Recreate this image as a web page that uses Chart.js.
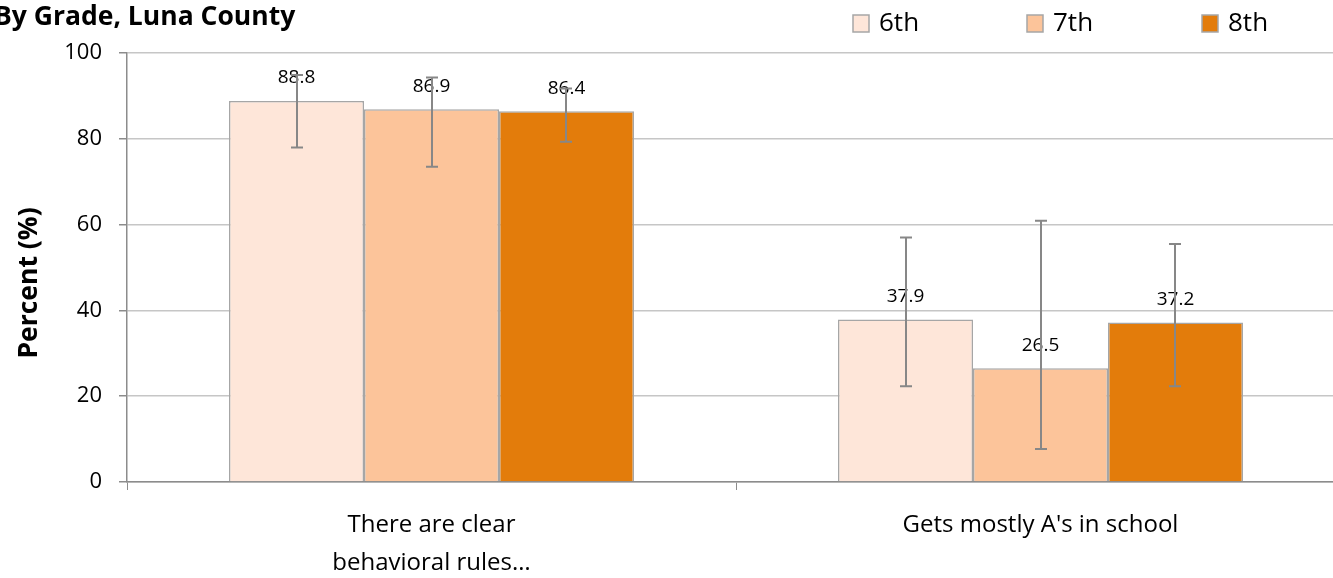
<!DOCTYPE html>
<html>
<head>
<meta charset="utf-8">
<script src="https://cdn.jsdelivr.net/npm/chart.js@4/dist/chart.umd.min.js"></script>
<style>
  html, body { margin: 0; padding: 0; background: #fff; overflow: hidden; width: 1333px; height: 578px; }
  #wrap { position: absolute; left: 0; top: 0; width: 1346px; height: 578px; }
</style>
</head>
<body>
<div id="wrap"><canvas id="c" width="1346" height="578"></canvas></div>
<script>
// ---- data ----
const titleText = "By Grade, Luna County";
const categories = [["There are clear", "behavioral rules\u2026"], "Gets mostly A's in school"];
const grades = ["6th", "7th", "8th"];
const val6 = [88.8, 37.9];
const val7 = [86.9, 26.5];
const val8 = [86.4, 37.2];
const low6 = [78.0, 22.3];
const high6 = [94.9, 57.0];
const low7 = [73.5, 7.7];
const high7 = [94.3, 60.9];
const low8 = [79.3, 22.3];
const high8 = [91.7, 55.5];
const yTicks = [0, 20, 40, 60, 80, 100];
const yTitle = "Percent (%)";

const colors = ["#FEE6D9", "#FCC49A", "#E37C0B"];
const values = [val6, val7, val8];
const lows = [low6, low7, low8];
const highs = [high6, high7, high8];
const FONT = "'Open Sans', 'DejaVu Sans', sans-serif";

const extras = {
  id: 'extras',
  afterDatasetsDraw(chart) {
    const ctx = chart.ctx;
    const y = chart.scales.y;
    ctx.save();
    // data labels
    ctx.font = "19px " + FONT;
    ctx.fillStyle = "#000";
    ctx.textAlign = "center";
    ctx.textBaseline = "middle";
    chart.data.datasets.forEach((ds, di) => {
      const meta = chart.getDatasetMeta(di);
      meta.data.forEach((bar, i) => {
        ctx.fillText(ds.data[i].toFixed(1), bar.x, bar.y - 23);
      });
    });
    // error bars
    ctx.strokeStyle = "#878787";
    ctx.lineWidth = 2;
    chart.data.datasets.forEach((ds, di) => {
      const meta = chart.getDatasetMeta(di);
      meta.data.forEach((bar, i) => {
        const yl = y.getPixelForValue(lows[di][i]);
        const yh = y.getPixelForValue(highs[di][i]);
        const x = Math.round(bar.x);
        ctx.beginPath();
        ctx.moveTo(x, yl); ctx.lineTo(x, yh);
        ctx.moveTo(x - 6, yl); ctx.lineTo(x + 6, yl);
        ctx.moveTo(x - 6, yh); ctx.lineTo(x + 6, yh);
        ctx.stroke();
      });
    });
    ctx.restore();
  },
  afterDraw(chart) {
    const ctx = chart.ctx;
    ctx.save();
    // title
    ctx.font = "bold 26.5px " + FONT;
    ctx.fillStyle = "#000";
    ctx.textAlign = "left";
    ctx.textBaseline = "middle";
    ctx.fillText(titleText, -6, 17);
    // y axis title
    ctx.save();
    ctx.translate(29, 283);
    ctx.rotate(-Math.PI / 2);
    ctx.textAlign = "center";
    ctx.font = "bold 26.5px " + FONT;
    ctx.fillText(yTitle, 0, 0);
    ctx.restore();
    // legend
    const lx = [853, 1027, 1202];
    ctx.font = "26px " + FONT;
    ctx.textAlign = "left";
    grades.forEach((g, i) => {
      ctx.fillStyle = colors[i];
      ctx.fillRect(lx[i], 15, 16, 17);
      ctx.strokeStyle = "#a6a6a6";
      ctx.lineWidth = 1.5;
      ctx.strokeRect(lx[i], 15, 16, 17);
      ctx.fillStyle = "#000";
      ctx.fillText(g, lx[i] + 26, 24);
    });
    ctx.restore();
  }
};

new Chart(document.getElementById('c'), {
  type: 'bar',
  data: {
    labels: categories,
    datasets: grades.map((g, i) => ({
      label: g,
      data: values[i],
      backgroundColor: colors[i],
      borderColor: "#a6a6a6",
      borderWidth: 1.5,
      categoryPercentage: 0.665,
      barPercentage: 1.0
    }))
  },
  options: {
    responsive: false,
    animation: false,
    layout: { padding: { top: 53, right: 1, left: 0, bottom: 0 } },
    plugins: { legend: { display: false }, tooltip: { enabled: false }, title: { display: false } },
    scales: {
      x: {
        grid: { display: true, drawOnChartArea: false, offset: true, tickLength: 8, color: "#8c8c8c", lineWidth: 1 },
        border: { display: true, color: "#8c8c8c", width: 1.5 },
        ticks: { font: { family: FONT, size: 24, lineHeight: 1.55 }, color: "#000", padding: 17, maxRotation: 0, autoSkip: false },
        afterFit(s) { s.height = 96; }
      },
      y: {
        min: 0, max: 100,
        afterBuildTicks(s) { s.ticks = yTicks.map(v => ({ value: v })); },
        grid: { color: "#c6c6c6", lineWidth: 1.5, tickLength: 8, tickColor: "#8c8c8c" },
        border: { display: true, color: "#8c8c8c", width: 1.5 },
        ticks: { font: { family: FONT, size: 22 }, color: "#000", padding: 17 },
        afterFit(s) { s.width = 127; }
      }
    }
  },
  plugins: [extras]
});
</script>
</body>
</html>
